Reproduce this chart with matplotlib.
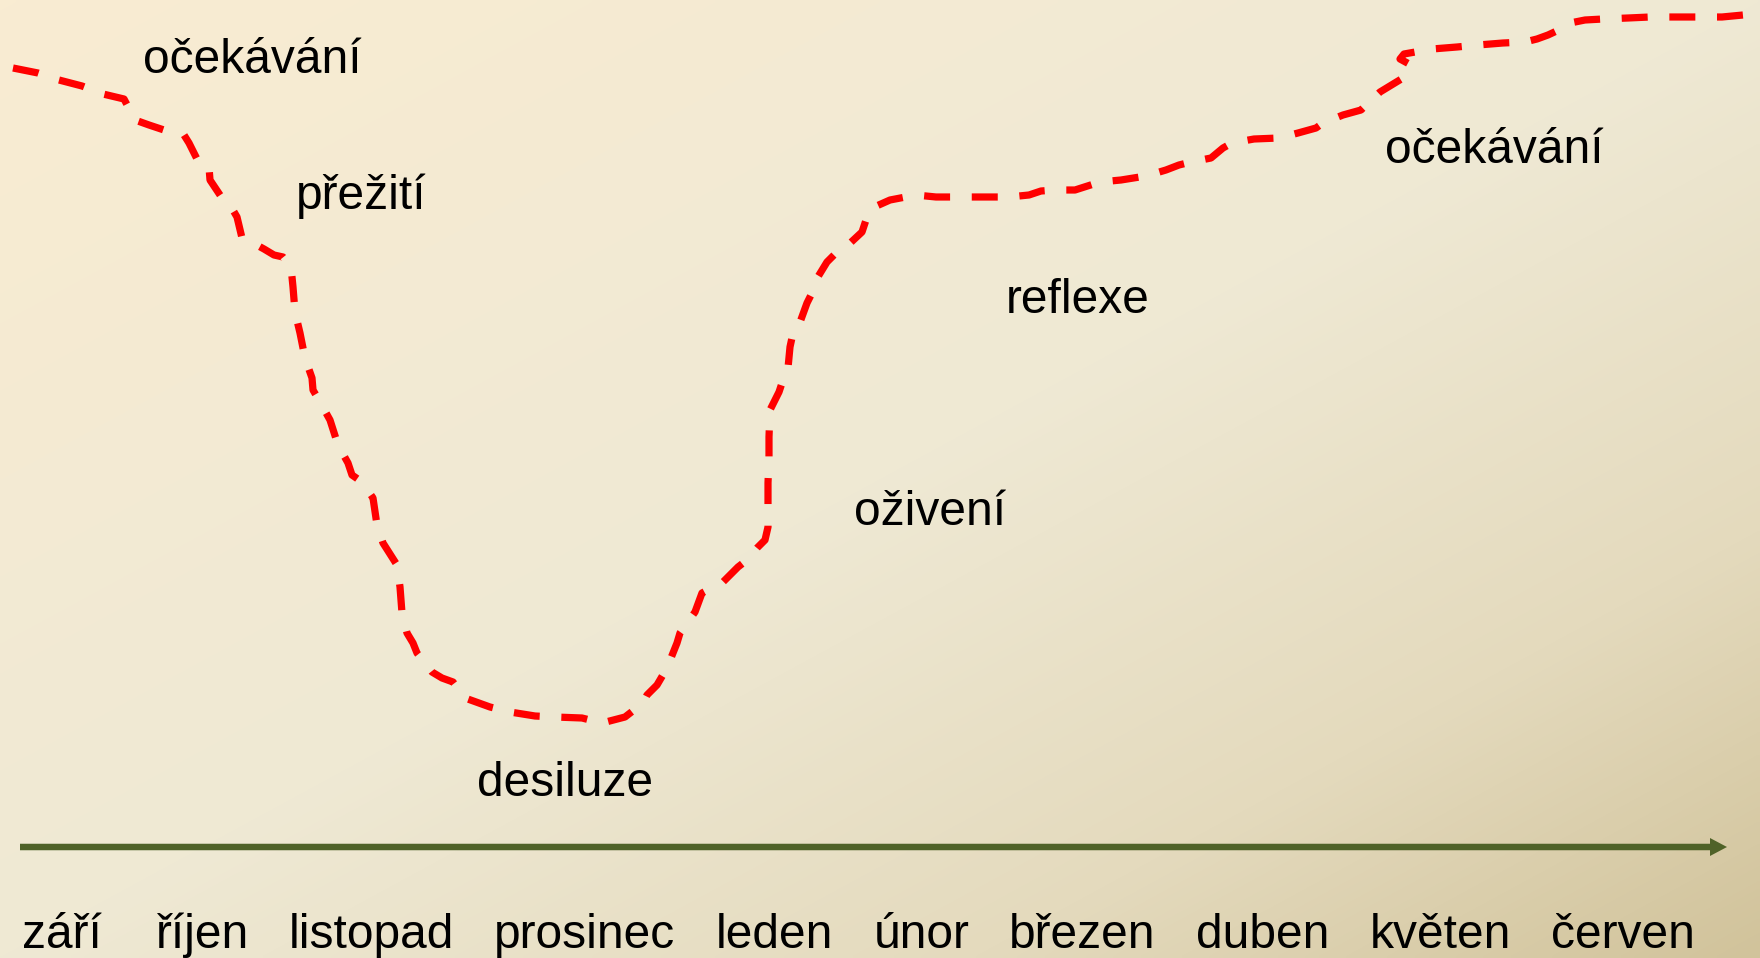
import numpy as np
import matplotlib
matplotlib.use("Agg")
import matplotlib.pyplot as plt
from matplotlib.colors import LinearSegmentedColormap

W, H = 1760, 958

# ---- data ----
months = ["září", "říjen", "listopad", "prosinec", "leden", "únor",
          "březen", "duben", "květen", "červen"]
month_x = [62, 202, 371, 584, 774, 922, 1082, 1263, 1440, 1623]
month_y = 948

phase_labels = ["očekávání", "přežití", "desiluze", "oživení", "reflexe", "očekávání"]
phase_x = [252, 361, 565, 930, 1078, 1494]
phase_y = [73, 209, 796, 525, 313, 163]

curve_x = [13, 38, 59, 82, 103, 124, 135, 149, 170, 184, 189, 199, 209, 210, 222, 230,
           237, 242, 253, 264, 274, 283, 291, 293,
           295, 300, 305, 312, 313, 320, 330, 338, 348, 352, 362, 373, 377, 383, 397,
           400, 402, 407, 413, 417, 432, 442, 453, 465, 490, 510, 535, 555, 582, 602,
           625, 643, 647, 657, 667, 677, 680, 695,
           702, 723, 738, 747, 757, 765, 768, 768, 768, 769, 769, 770, 779, 782, 788,
           790, 793, 799, 807, 812, 816, 827, 837, 847, 862, 867, 872, 890,
           916, 936, 962, 982, 1009, 1029, 1041, 1055, 1075, 1100, 1121, 1146, 1166,
           1179, 1191, 1211, 1223, 1232, 1254, 1279, 1298, 1316, 1323, 1343, 1361,
           1380, 1403, 1411, 1400, 1404, 1432, 1457, 1478, 1503, 1525, 1537, 1548,
           1563, 1570, 1585, 1603, 1628, 1650, 1675, 1697, 1722, 1743, 1753, 1760]
curve_y = [68, 73, 80, 86, 94, 99, 120, 125, 132, 135, 143, 163, 167, 180, 198, 205,
           217, 238, 243, 249, 255, 257, 267, 287,
           312, 333, 358, 378, 390, 402, 420, 445, 463, 475, 482, 498, 525, 543, 565,
           587, 613, 633, 643, 653, 672, 678, 682, 698, 707, 712, 716, 717, 718, 723,
           717, 703, 695, 685, 668, 643, 633, 612,
           593, 582, 567, 560, 548, 540, 527, 503, 483, 457, 437, 410, 392, 383, 368,
           347, 333, 325, 303, 293, 280, 262, 252, 246, 232, 217, 208, 200,
           195, 197, 197, 197, 197, 195, 191, 190, 190, 182, 180, 176, 170,
           165, 162, 158, 148, 143, 139, 138, 133, 128, 123, 115, 110,
           92, 78, 65, 59, 54, 49, 47, 45, 43, 42, 39, 35,
           28, 23, 20, 19, 18, 17, 17, 17, 17, 15, 12, 8]

arrow_start = (20, 847)
arrow_end = (1727, 847)

# ---- figure ----
fig = plt.figure(figsize=(17.6, 9.58), dpi=100)
ax = fig.add_axes([0, 0, 1, 1])
ax.set_xlim(0, W)
ax.set_ylim(H, 0)
ax.axis("off")

# background diagonal gradient
stops = [(0.0, (249/255, 236/255, 210/255)),
         (0.5, (239/255, 233/255, 212/255)),
         (0.78, (228/255, 218/255, 189/255)),
         (1.0, (209/255, 195/255, 155/255))]
cmap = LinearSegmentedColormap.from_list("bg", stops)
gx, gy = np.meshgrid(np.linspace(0, 1, 400), np.linspace(0, 1, 220))
t = (gx + gy) / 2
ax.imshow(t, cmap=cmap, extent=(0, W, H, 0), aspect="auto", zorder=0,
          interpolation="bilinear", vmin=0, vmax=1)

# dashed curve
ax.plot(curve_x, curve_y, color="#FF0000", lw=5.2, dashes=(3.6, 3.0),
        dash_capstyle="butt", dash_joinstyle="round", zorder=3)

# time arrow
ax.arrow(arrow_start[0], arrow_start[1], arrow_end[0] - arrow_start[0], 0,
         width=6.5, head_width=18, head_length=17, length_includes_head=True,
         color="#4F6228", linewidth=0, zorder=2)

font = ["Liberation Sans", "DejaVu Sans"]
for lab, x, y in zip(phase_labels, phase_x, phase_y):
    ax.text(x, y, lab, ha="center", va="baseline", fontsize=34.5, family=font,
            color="black", zorder=4)
for lab, x in zip(months, month_x):
    ax.text(x, month_y, lab, ha="center", va="baseline", fontsize=34.5, family=font,
            color="black", zorder=4)

fig.savefig("out.png", dpi=100)
